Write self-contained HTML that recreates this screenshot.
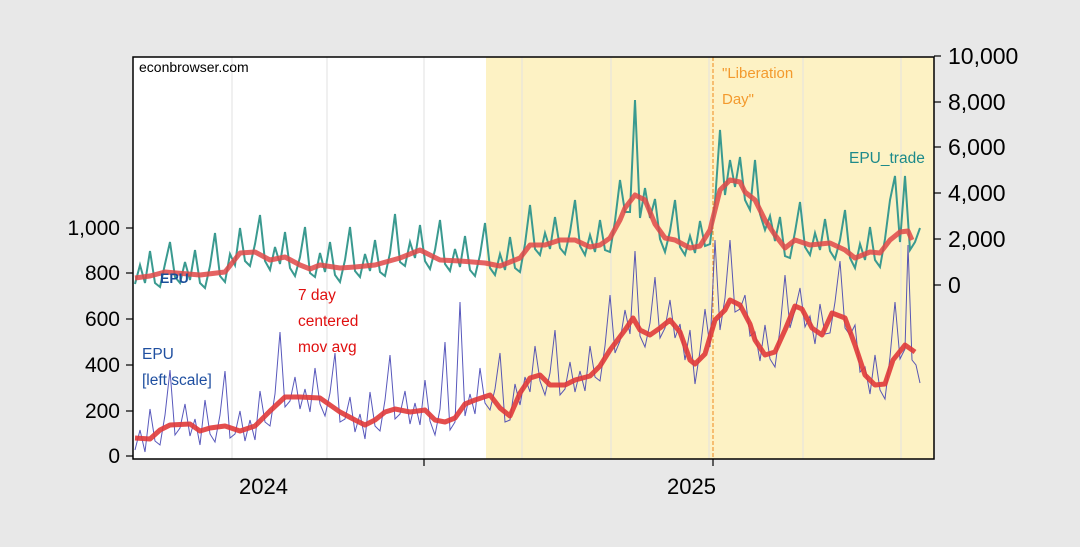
<!DOCTYPE html>
<html><head><meta charset="utf-8"><style>
body{margin:0;background:#e8e8e8;}
svg{display:block;font-family:"Liberation Sans","DejaVu Sans",sans-serif;}
</style></head><body>
<svg width="1080" height="547" xmlns="http://www.w3.org/2000/svg">
<rect width="1080" height="547" fill="#e8e8e8"/>
<rect x="133" y="57" width="801" height="402" fill="#fff"/>
<rect x="486" y="57" width="448" height="402" fill="#fdf2c4"/>
<g stroke="#e2e2e2" stroke-width="1">
<line x1="232" y1="57" x2="232" y2="459"/><line x1="327" y1="57" x2="327" y2="459"/>
<line x1="424" y1="57" x2="424" y2="459"/><line x1="522" y1="57" x2="522" y2="459"/>
<line x1="611" y1="57" x2="611" y2="459"/><line x1="709" y1="57" x2="709" y2="459"/>
<line x1="803" y1="57" x2="803" y2="459"/><line x1="901" y1="57" x2="901" y2="459"/>
</g>
<line x1="713" y1="57" x2="713" y2="459" stroke="#f08a1c" stroke-width="1" stroke-dasharray="4,2"/>

<polyline fill="none" stroke="#3b3bb0" stroke-width="1" stroke-opacity="0.85" points="135,450 140,430 145,452 150,409 155,441 160,445 165,415 170,370 175,435 180,428 185,404 190,436 195,419 200,445 205,400 210,434 215,442 220,415 225,371 230,438 235,434 240,411 245,441 250,420 255,440 260,391 265,422 270,426 275,394 280,332 285,407 290,401 295,377 300,409 305,389 310,412 315,368 320,404 325,416 330,393 335,353 340,422 345,419 350,397 355,432 360,414 365,439 370,392 375,426 380,431 385,400 390,355 395,419 400,414 405,391 410,424 415,403 420,425 425,380 430,421 435,435 440,409 445,342 450,430 455,422 460,302 465,416 470,394 475,414 480,368 485,403 490,410 495,389 500,353 505,422 510,420 515,384 520,405 525,377 530,392 535,346 540,381 545,395 550,373 555,330 560,395 565,389 570,362 575,392 580,371 585,391 590,346 595,377 600,381 605,346 610,295 615,353 620,341 625,310 630,334 635,251 640,336 645,347 650,323 655,277 660,338 665,328 670,300 675,338 680,324 685,360 690,330 695,384 700,351 705,309 710,347 715,240 720,330 725,298 730,240 735,312 740,309 745,295 750,336 755,332 760,361 765,325 770,359 775,367 780,329 785,275 790,328 795,310 800,288 805,327 810,316 815,344 820,304 825,334 830,333 835,302 840,261 845,328 850,335 855,325 860,372 865,367 870,394 875,355 880,390 885,399 890,357 895,302 900,359 905,349 908,245 912,360 916,365 920,383"/>

<polyline fill="none" stroke="#3a9a90" stroke-width="2" points="135,284 140,265 145,283 150,251 155,283 160,287 165,264 170,242 175,277 180,283 185,262 190,280 195,250 200,283 205,288 210,266 215,233 220,276 225,282 230,254 235,265 240,228 245,261 250,266 255,244 260,215 265,261 270,270 275,247 280,264 285,232 290,268 295,276 300,257 305,227 310,273 315,277 320,253 325,272 330,242 335,275 340,282 345,260 350,227 355,271 360,277 365,254 370,271 375,240 380,272 385,276 390,253 395,214 400,262 405,266 410,242 415,258 420,225 425,261 430,269 435,250 440,220 445,264 450,271 455,249 460,267 465,236 470,270 475,276 480,255 485,223 490,268 495,275 500,254 505,270 510,237 515,268 520,272 525,244 530,205 535,249 540,255 545,233 550,249 555,217 560,248 565,254 570,232 575,200 580,246 585,255 590,235 595,252 600,220 605,250 610,252 615,221 620,180 625,212 630,212 635,100 640,218 645,188 650,218 655,199 660,239 665,252 670,231 675,200 680,247 685,255 690,236 695,253 700,221 705,246 710,244 715,202 720,130 725,195 730,160 735,187 740,157 745,200 750,210 755,160 760,214 765,230 770,216 775,241 780,217 785,256 790,258 795,232 800,202 805,247 810,255 815,233 820,250 825,219 830,251 835,259 840,240 845,210 850,258 855,268 860,244 865,260 870,227 875,260 880,267 885,239 890,200 895,176 900,242 905,176 910,250 915,242 920,228"/>

<polyline fill="none" stroke="#e03a3a" stroke-width="5" stroke-linejoin="round" stroke-opacity="0.9" points="135,438 150,439 160,430 170,425 190,424 200,431 210,428 225,426 240,431 255,426 270,411 285,397 300,397 320,398 330,405 340,412 355,420 365,425 375,420 385,412 395,409 410,412 425,410 435,420 445,422 455,418 465,404 475,400 490,395 500,408 510,416 520,393 530,378 540,375 550,385 565,385 575,380 590,376 600,366 610,350 625,330 633,318 640,330 650,335 660,328 670,320 680,332 690,360 695,364 705,354 715,320 725,310 730,300 740,305 750,324 755,340 765,355 775,352 785,330 795,306 802,309 812,328 822,335 832,313 845,318 855,345 865,375 875,385 885,384 893,360 905,345 915,352"/>
<polyline fill="none" stroke="#e04848" stroke-width="5" stroke-linejoin="round" stroke-opacity="0.85" points="135,278 150,276 165,272 200,275 225,272 240,253 255,252 270,260 285,257 300,265 310,269 320,265 340,268 355,267 375,265 400,258 420,250 430,255 440,260 460,261 485,263 500,266 510,262 520,258 530,245 545,245 560,240 575,240 590,247 600,245 610,238 620,220 625,208 635,195 645,200 655,224 665,238 675,240 690,248 700,246 710,230 720,190 730,180 740,182 745,192 755,200 765,220 775,235 785,248 795,240 810,245 830,243 845,250 855,258 870,252 880,253 890,240 900,232 908,231 912,240"/>
<text x="160" y="283" font-size="14" font-weight="bold" fill="#1a4f9a">EPU</text>

<rect x="133" y="57" width="801" height="402" fill="none" stroke="#000" stroke-width="1.5"/>
<g stroke="#000" stroke-width="1.2">
<line x1="126" y1="456" x2="133" y2="456"/><line x1="126" y1="411" x2="133" y2="411"/>
<line x1="126" y1="365" x2="133" y2="365"/><line x1="126" y1="319" x2="133" y2="319"/>
<line x1="126" y1="273" x2="133" y2="273"/><line x1="126" y1="228" x2="133" y2="228"/>
<line x1="934" y1="285" x2="941" y2="285"/><line x1="934" y1="239" x2="941" y2="239"/>
<line x1="934" y1="193" x2="941" y2="193"/><line x1="934" y1="147" x2="941" y2="147"/>
<line x1="934" y1="102" x2="941" y2="102"/><line x1="934" y1="56" x2="941" y2="56"/>
<line x1="424" y1="459" x2="424" y2="466"/><line x1="713" y1="459" x2="713" y2="466"/>
</g>
<g font-size="21" fill="#000" text-anchor="end">
<text x="120" y="463">0</text><text x="120" y="418">200</text><text x="120" y="372">400</text>
<text x="120" y="326">600</text><text x="120" y="280">800</text><text x="120" y="235">1,000</text>
</g>
<g font-size="23" fill="#000">
<text x="948" y="293">0</text><text x="948" y="247">2,000</text><text x="948" y="201">4,000</text>
<text x="948" y="155">6,000</text><text x="948" y="110">8,000</text><text x="948" y="64">10,000</text>
</g>
<g font-size="22" fill="#000"><text x="239" y="494">2024</text><text x="667" y="494">2025</text></g>
<text x="139" y="72" font-size="14" fill="#000">econbrowser.com</text>
<text x="722" y="78" font-size="15" fill="#f39a2e">"Liberation</text>
<text x="722" y="104" font-size="15" fill="#f39a2e">Day"</text>
<text x="849" y="163" font-size="15.5" fill="#1d8a8a">EPU_trade</text>
<text x="298" y="300" font-size="15.5" fill="#e01010">7 day</text>
<text x="298" y="326" font-size="15.5" fill="#e01010">centered</text>
<text x="298" y="352" font-size="15.5" fill="#e01010">mov avg</text>
<text x="142" y="359" font-size="15.5" fill="#1f4fa0">EPU</text>
<text x="142" y="385" font-size="15.5" fill="#1f4fa0">[left scale]</text>
</svg>
</body></html>
